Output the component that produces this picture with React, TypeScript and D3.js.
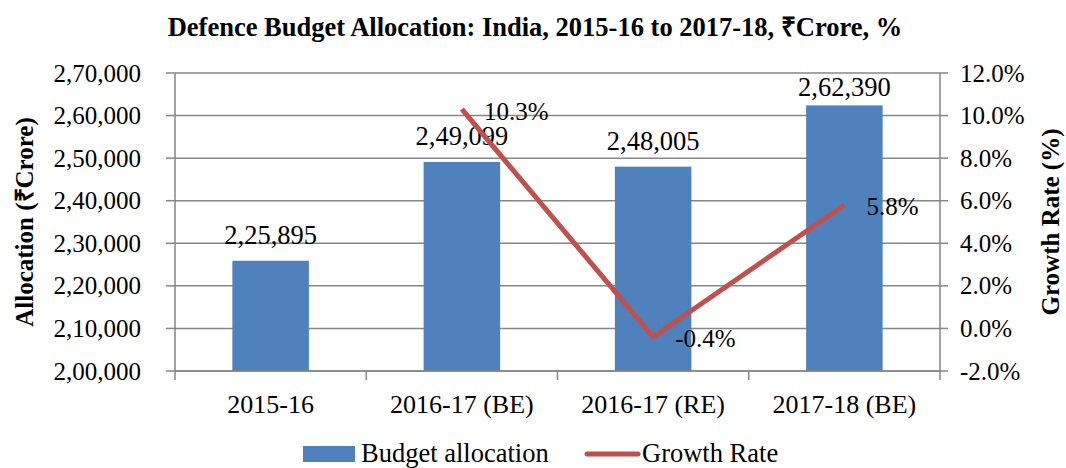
import React from "react";
import * as d3 from "d3";

// chart values
const categories = ["2015-16", "2016-17 (BE)", "2016-17 (RE)", "2017-18 (BE)"];
const allocation = [225895, 249099, 248005, 262390];
const growth: (number | null)[] = [null, 10.3, -0.4, 5.8];
const leftTicks = [200000, 210000, 220000, 230000, 240000, 250000, 260000, 270000];
const rightTicks = [-2, 0, 2, 4, 6, 8, 10, 12];

const W = 1066;
const H = 468;
const margin = { top: 73, right: 126, bottom: 97, left: 175 };
const FONT = "'Liberation Serif', 'Times New Roman', serif";
const BAR = "#4F81BD";
const LINE = "#C0504D";
const GRID = "#868686";

// indian style grouping: 2,49,099
function inr(v: number) {
  const s = String(Math.round(v));
  const last3 = s.slice(-3);
  let rest = s.slice(0, -3);
  const parts: string[] = [];
  while (rest.length > 2) {
    parts.unshift(rest.slice(-2));
    rest = rest.slice(0, -2);
  }
  if (rest.length) parts.unshift(rest);
  return parts.length ? parts.join(",") + "," + last3 : last3;
}

// plain hyphen instead of d3's unicode minus
const pct = (v: number) => d3.format(".1f")(v).replace("\u2212", "-") + "%";

export default function App() {
  const x0 = margin.left;
  const x1 = W - margin.right;
  const y0 = H - margin.bottom;
  const y1 = margin.top;

  const xScale = d3.scaleBand<string>()
    .domain(categories)
    .range([x0, x1])
    .paddingInner(0.6)
    .paddingOuter(0.3);
  const step = xScale.step();
  const bw = xScale.bandwidth();
  const cx = (c: string) => (xScale(c) as number) + bw / 2;

  const yLeft = d3.scaleLinear().domain([200000, 270000]).range([y0, y1]);
  const yRight = d3.scaleLinear().domain([-2, 12]).range([y0, y1]);

  const pts = categories
    .map((c, i) => ({ c, v: growth[i] }))
    .filter(d => d.v !== null) as { c: string; v: number }[];

  const line = d3.line<{ c: string; v: number }>()
    .x(d => cx(d.c))
    .y(d => yRight(d.v));

  const boundaries = d3.range(categories.length + 1).map(i => x0 + i * step);

  return (
    <div style={{ position: "absolute", left: 0, top: 0 }}>
      <svg width={W} height={H} style={{ display: "block", background: "#fff" }} fontFamily={FONT}>
        <text x={535} y={36} textAnchor="middle" fontWeight="bold" fontSize={26.5}>
          Defence Budget Allocation: India, 2015-16 to 2017-18, ₹Crore, %
        </text>

        {/* gridlines */}
        {leftTicks.map(t => (
          <line key={"g" + t} x1={x0} x2={x1} y1={yLeft(t)} y2={yLeft(t)} stroke={GRID} strokeWidth={1.5} />
        ))}

        {/* bars */}
        {categories.map((c, i) => (
          <rect key={c} x={xScale(c)} y={yLeft(allocation[i])} width={bw}
            height={y0 - yLeft(allocation[i])} fill={BAR} />
        ))}

        {/* left axis */}
        <line x1={x0} x2={x0} y1={y1} y2={y0} stroke={GRID} strokeWidth={1.5} />
        {leftTicks.map(t => (
          <g key={"l" + t}>
            <line x1={x0 - 9} x2={x0} y1={yLeft(t)} y2={yLeft(t)} stroke={GRID} strokeWidth={1.5} />
            <text x={141} y={yLeft(t)} dy="0.34em" textAnchor="end" fontSize={25}>{inr(t)}</text>
          </g>
        ))}

        {/* right axis */}
        <line x1={x1} x2={x1} y1={y1} y2={y0} stroke={GRID} strokeWidth={1.5} />
        {rightTicks.map(t => (
          <g key={"r" + t}>
            <line x1={x1} x2={x1 + 8} y1={yRight(t)} y2={yRight(t)} stroke={GRID} strokeWidth={1.5} />
            <text x={960} y={yRight(t)} dy="0.34em" textAnchor="start" fontSize={25}>{pct(t)}</text>
          </g>
        ))}

        {/* bottom axis */}
        <line x1={x0} x2={x1} y1={y0} y2={y0} stroke={GRID} strokeWidth={1.5} />
        {boundaries.map((b, i) => (
          <line key={"b" + i} x1={b} x2={b} y1={y0} y2={y0 + 9} stroke={GRID} strokeWidth={1.5} />
        ))}
        {categories.map(c => (
          <text key={"xl" + c} x={cx(c)} y={413} textAnchor="middle" fontSize={26}>{c}</text>
        ))}

        {/* bar labels, kept inside the plot area like excel does */}
        {categories.map((c, i) => (
          <text key={"bl" + c} x={cx(c)} y={Math.max(yLeft(allocation[i]) - 17, y1 + 23)} textAnchor="middle" fontSize={26.5}>
            {inr(allocation[i])}
          </text>
        ))}

        {/* growth line */}
        <path d={line(pts) || ""} fill="none" stroke={LINE} strokeWidth={5} strokeLinejoin="round" />
        {pts.map(d => (
          <text key={"pl" + d.c} x={cx(d.c) + 22} y={yRight(d.v) + 2} dy="0.34em" fontSize={25}>
            {pct(d.v)}
          </text>
        ))}

        {/* axis titles */}
        <text transform={`translate(33,${(y0 + y1) / 2}) rotate(-90)`} textAnchor="middle" fontWeight="bold" fontSize={25}>
          Allocation (₹Crore)
        </text>
        <text transform={`translate(1059,${(y0 + y1) / 2}) rotate(-90)`} textAnchor="middle" fontWeight="bold" fontSize={25}>
          Growth Rate (%)
        </text>

        {/* legend */}
        <rect x={303} y={446} width={52} height={16} fill={BAR} />
        <text x={361} y={462} fontSize={26.5}>Budget allocation</text>
        <line x1={587} x2={638} y1={454} y2={454} stroke={LINE} strokeWidth={5} strokeLinecap="round" />
        <text x={642} y={462} fontSize={26.5}>Growth Rate</text>
      </svg>
    </div>
  );
}
